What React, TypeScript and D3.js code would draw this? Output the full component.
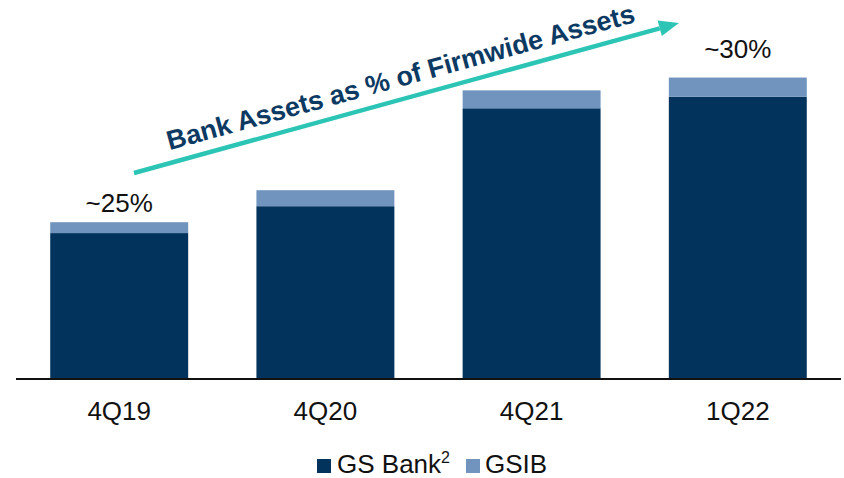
import React from 'react';
import * as d3 from 'd3';

const categories = ['4Q19', '4Q20', '4Q21', '1Q22'];
const gsBank = [228, 270, 423, 441];
const gsib = [17, 25, 28, 30];
const pctLabels = ['~25%', '', '', '~30%'];

const WIDTH = 844;
const HEIGHT = 478;
const NAVY = '#02335C';
const LIGHT = '#7094BE';
const TEAL = '#2CC5B5';
const FONT = '"Liberation Sans", Arial, sans-serif';

const App: React.FC = () => {
  const x = d3.scaleBand<string>().domain(categories).range([16, 841]).paddingInner(0.331).paddingOuter(0.166);
  const y = d3.scaleLinear().domain([0, 500]).range([379, 59]);
  const baseY = y(0);

  const stacked = categories.map((c, i) => ({
    cat: c,
    bank: gsBank[i],
    top: gsBank[i] + gsib[i],
    label: pctLabels[i],
  }));

  // trend arrow
  const a0 = { x: 134, y: 173 };
  const a1 = { x: 679, y: 23 };
  const ang = Math.atan2(a1.y - a0.y, a1.x - a0.x);
  const headLen = 20;
  const headW = 8;
  const bx = a1.x - headLen * Math.cos(ang);
  const by = a1.y - headLen * Math.sin(ang);
  const nx = -Math.sin(ang);
  const ny = Math.cos(ang);
  const head = `M${a1.x},${a1.y}L${bx + nx * headW},${by + ny * headW}L${bx - nx * headW},${by - ny * headW}Z`;
  const deg = (ang * 180) / Math.PI;

  return (
    <svg width={WIDTH} height={HEIGHT} style={{ position: 'absolute', left: 0, top: 0, background: '#fff' }} fontFamily={FONT}>
      {stacked.map(d => (
        <g key={d.cat}>
          <rect x={x(d.cat)} y={y(d.bank)} width={x.bandwidth()} height={baseY - y(d.bank)} fill={NAVY} />
          <rect x={x(d.cat)} y={y(d.top)} width={x.bandwidth()} height={y(d.bank) - y(d.top)} fill={LIGHT} />
          {d.label && (
            <text
              x={(x(d.cat) as number) + x.bandwidth() / 2}
              y={y(d.top) - (d.cat === '1Q22' ? 20 : 10)}
              textAnchor="middle"
              fontSize={26}
              fill="#111"
            >
              {d.label}
            </text>
          )}
          <text x={(x(d.cat) as number) + x.bandwidth() / 2} y={420} textAnchor="middle" fontSize={26} fill="#111">
            {d.cat}
          </text>
        </g>
      ))}
      <line x1={16} x2={841} y1={baseY} y2={baseY} stroke="#111" strokeWidth={2} />

      <line x1={a0.x} y1={a0.y} x2={bx} y2={by} stroke={TEAL} strokeWidth={4.5} />
      <path d={head} fill={TEAL} />
      <text
        transform={`translate(403,86) rotate(${deg})`}
        textAnchor="middle"
        fontSize={27}
        fontWeight="bold"
        fill="#0C3A63"
      >
        Bank Assets as % of Firmwide Assets
      </text>

      <g>
        <rect x={317} y={459} width={14} height={14} fill={NAVY} />
        <text x={337} y={473} fontSize={26} fill="#111">
          GS Bank<tspan fontSize={16} dy={-10}>2</tspan>
        </text>
        <rect x={466} y={459} width={14} height={14} fill={LIGHT} />
        <text x={485} y={473} fontSize={26} fill="#111">
          GSIB
        </text>
      </g>
    </svg>
  );
};

export default App;
